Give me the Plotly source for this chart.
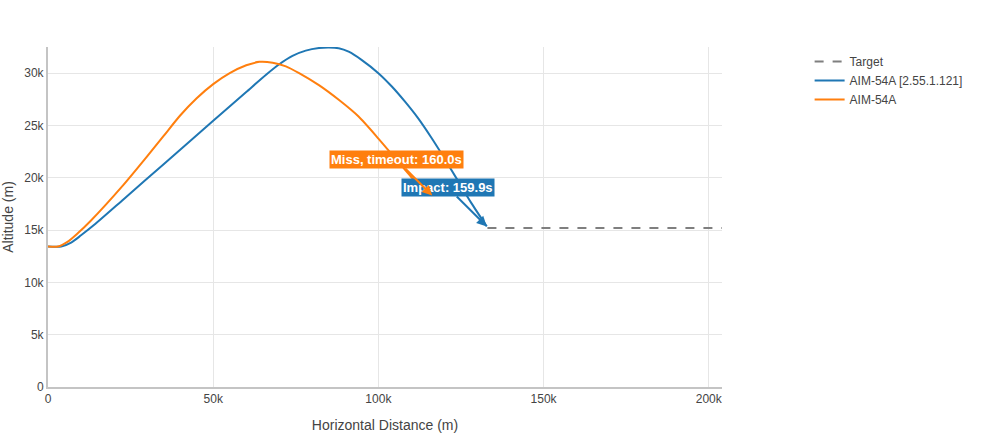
import plotly.graph_objects as go

# Target path (constant altitude)
target_x = [133000, 204000]
target_y = [15200, 15200]

# AIM-54A [2.55.1.121] (blue) trajectory
blue_x = [0, 4000, 7000, 10000, 14000, 22900, 35000, 50000, 60000, 66000, 70000, 74000, 78000,
          82000, 85000, 88000, 91000, 95000, 100000, 104000, 108000, 112000, 116000, 120000,
          124000, 128000, 132800]
blue_y = [13430, 13430, 13800, 14500, 15500, 17950, 21300, 25450, 28200, 29850, 30850, 31650, 32150,
          32400, 32450, 32380, 32050, 31250, 30000, 28750, 27300, 25700, 23850, 21850,
          19750, 17650, 15350]

# AIM-54A (orange) trajectory
orange_x = [0, 3000, 6000, 9000, 12800, 22900, 30000, 35000, 40000, 45000, 50000, 55000, 60000,
            64000, 68000, 72000, 76000, 82000, 88000, 94000, 100000, 105000, 110000, 113000, 116300]
orange_y = [13430, 13430, 13900, 14700, 15850, 19350, 22050, 24000, 25950, 27600, 28950, 30000, 30750,
            31080, 31000, 30650, 30000, 28850, 27450, 25850, 23750, 21900, 20050, 19100, 18300]

names = ["Target", "AIM-54A [2.55.1.121]", "AIM-54A"]
blue = "#1f77b4"
orange = "#ff7f0e"
font_family = "Liberation Sans, Arial, sans-serif"

fig = go.Figure()
fig.add_trace(go.Scatter(x=target_x, y=target_y, mode="lines", name=names[0],
                         line=dict(color="#7f7f7f", width=2, dash="dash")))
fig.add_trace(go.Scatter(x=blue_x, y=blue_y, mode="lines", name=names[1],
                         line=dict(color=blue, width=2, shape="spline", smoothing=0.7)))
fig.add_trace(go.Scatter(x=orange_x, y=orange_y, mode="lines", name=names[2],
                         line=dict(color=orange, width=2, shape="spline", smoothing=0.7)))

fig.add_annotation(x=blue_x[-1], y=blue_y[-1], text="<b>Impact: 159.9s</b>",
                   showarrow=True, arrowhead=2, arrowsize=1, arrowwidth=2, arrowcolor=blue,
                   ax=-39, ay=-39, bgcolor=blue, font=dict(color="white", size=13, family=font_family))
fig.add_annotation(x=orange_x[-1], y=orange_y[-1], text="<b>Miss, timeout: 160.0s</b>",
                   showarrow=True, arrowhead=2, arrowsize=1, arrowwidth=2, arrowcolor=orange,
                   ax=-36, ay=-36, bgcolor=orange, font=dict(color="white", size=13, family=font_family))

fig.update_layout(
    width=1000, height=435,
    margin=dict(l=48, r=278, t=47, b=48),
    paper_bgcolor="white", plot_bgcolor="white",
    font=dict(family=font_family, size=12, color="#444"),
    showlegend=True,
    legend=dict(x=1.13, y=1, xanchor="left", yanchor="top", font=dict(size=12)),
    xaxis=dict(title=dict(text="Horizontal Distance (m)", font=dict(size=14)),
               range=[0, 204000], dtick=50000, showgrid=True, gridcolor="#e6e6e6",
               zeroline=False, showline=True, linecolor="#c4c4c4", linewidth=2,
               automargin=False),
    yaxis=dict(title=dict(text="Altitude (m)", font=dict(size=14)),
               range=[0, 32500], dtick=5000, showgrid=True, gridcolor="#e6e6e6",
               zeroline=False, showline=True, linecolor="#c4c4c4", linewidth=2,
               automargin=False),
)

fig.write_html("out.html")
